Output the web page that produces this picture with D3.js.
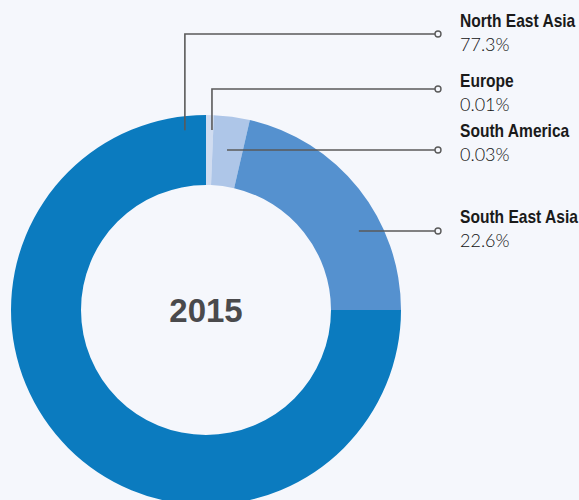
<!DOCTYPE html>
<meta charset="utf-8">
<style>
  body { margin: 0; background: #f5f7fc; }
  text.name { font-family: "Liberation Sans", Arial, sans-serif; font-weight: bold; font-size: 17.5px; fill: #1a1a1a; }
  text.value { font-family: Lato, "Liberation Sans", sans-serif; font-weight: 300; font-size: 18px; fill: #111; }
  text.year { font-family: "Liberation Sans", Arial, sans-serif; font-weight: bold; font-size: 33px; fill: #4a4a4c; }
</style>
<script src="https://d3js.org/d3.v7.min.js"></script>
<div id="chart"></div>
<script>
// slices in drawing order, clockwise from 12 o'clock
var regions = ["Europe", "South America", "South East Asia", "North East Asia"];
// arc sizes as drawn in the picture (%)
var arcShares = [0.64, 2.97, 21.39, 75.0];
// printed labels
var valueLabels = ["0.01%", "0.03%", "22.6%", "77.3%"];
var colors = ["#d0dcf0", "#aec6e8", "#5591cf", "#0b7bbf"];
var year = "2015";

var width = 579, height = 500;
var cx = 206, cy = 310, outerR = 195, innerR = 125;

var svg = d3.select("#chart").append("svg")
    .attr("width", width)
    .attr("height", height)
    .style("display", "block")
    .style("background", "#f5f7fc");

var g = svg.append("g").attr("transform", "translate(" + cx + "," + cy + ")");

var pie = d3.pie().sort(null).value(function(d) { return d.share; });
var arc = d3.arc().innerRadius(innerR).outerRadius(outerR);

var data = regions.map(function(r, i) {
  return { name: r, share: arcShares[i], label: valueLabels[i], color: colors[i] };
});

g.selectAll("path")
  .data(pie(data))
  .enter().append("path")
    .attr("d", arc)
    .attr("fill", function(d) { return d.data.color; });

g.append("text")
  .attr("class", "year")
  .attr("text-anchor", "middle")
  .attr("y", 12)
  .text(year);

// callouts: anchor point (angle in deg, radius), elbow line y, label baseline
var callouts = [
  { name: "North East Asia", ang: -6.7, r: 181, lineY: 34, textY: 27 },
  { name: "Europe",          ang: 1.9,  r: 180, lineY: 89, textY: 87 },
  { name: "South America",   ang: 7.5,  r: 161, lineY: 150, textY: 137 },
  { name: "South East Asia", ang: 62.7, r: 172, lineY: 231, textY: 223 }
];

var dotX = 438, textX = 460;
callouts.forEach(function(c) {
  var d = data.filter(function(x) { return x.name == c.name; })[0];
  var a = c.ang * Math.PI / 180;
  var ax = cx + c.r * Math.sin(a), ay = cy - c.r * Math.cos(a);
  var pts = [[ax, ay]];
  if (Math.abs(ay - c.lineY) > 2) pts.push([ax, c.lineY]);
  else pts[0][1] = c.lineY;
  pts.push([dotX - 3, c.lineY]);
  svg.append("path")
    .attr("d", d3.line()(pts))
    .attr("fill", "none")
    .attr("stroke", "#5a5a5a")
    .attr("stroke-width", 1.6);
  svg.append("circle")
    .attr("cx", dotX).attr("cy", c.lineY).attr("r", 3)
    .attr("fill", "#f5f7fc")
    .attr("stroke", "#5a5a5a")
    .attr("stroke-width", 1.4);
  // bold names are condensed in the original
  svg.append("text").attr("class", "name")
    .attr("transform", "translate(" + textX + "," + c.textY + ") scale(0.89,1)")
    .text(d.name);
  svg.append("text").attr("class", "value")
    .attr("x", textX).attr("y", c.textY + 24).text(d.label);
});
</script>
